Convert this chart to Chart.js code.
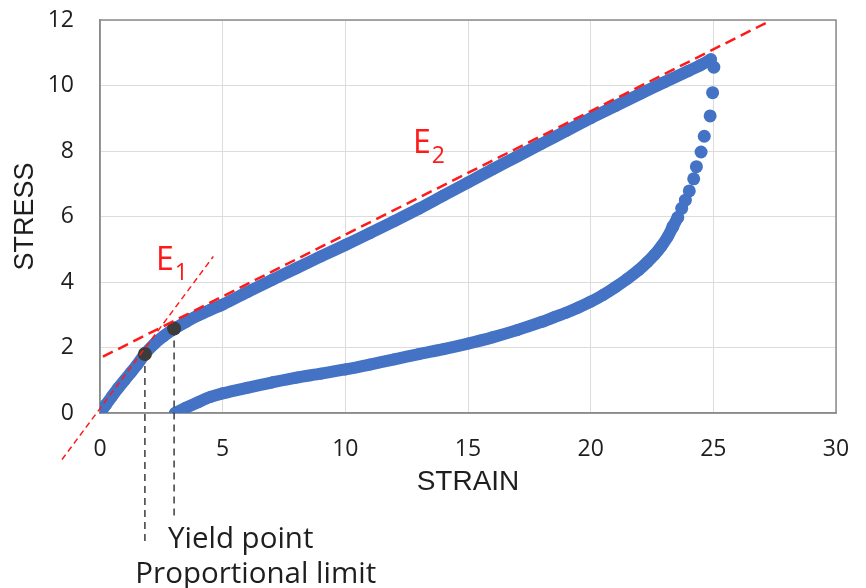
<!DOCTYPE html>
<html>
<head>
<meta charset="utf-8">
<script src="https://cdn.jsdelivr.net/npm/chart.js@4.4.1/dist/chart.umd.min.js"></script>
<style>
  html, body { margin: 0; padding: 0; background: #fff; }
  #wrap { width: 866px; height: 588px; }
</style>
</head>
<body>
<div id="wrap"><canvas id="chart" width="866" height="588"></canvas></div>
<script>
/* stress-strain loop, values */

const X_TICKS = [0, 5, 10, 15, 20, 25, 30];
const Y_TICKS = [0, 2, 4, 6, 8, 10, 12];

// loading branch
const loadStrain = [0, 0.25, 0.5, 0.75, 1.0, 1.25, 1.5, 1.83, 2.2, 2.6, 3.0, 3.5, 4.0, 4.5, 5, 6, 7, 8, 9, 10,
  11, 12, 13, 14, 15, 16, 17, 18, 19, 20, 21, 22, 23, 24, 24.5, 24.9];
const loadStress = [0, 0.26, 0.52, 0.77, 1.0, 1.23, 1.46, 1.8, 2.1, 2.35, 2.56, 2.78, 2.98, 3.15, 3.31, 3.69, 4.06, 4.42, 4.78, 5.13,
  5.49, 5.86, 6.24, 6.64, 7.04, 7.44, 7.83, 8.22, 8.61, 9.0, 9.37, 9.74, 10.1, 10.45, 10.63, 10.8];

// unloading branch, steep part (separate dots)
const dropStrain = [25.02, 24.97, 24.87, 24.63, 24.5, 24.31, 24.2, 24.02, 23.86, 23.71, 23.55, 23.35];
const dropStress = [10.56, 9.78, 9.07, 8.45, 7.97, 7.52, 7.15, 6.78, 6.5, 6.25, 5.97, 5.69];

// unloading branch, dense part
const unloadStrain = [23.55, 23.35, 23.14, 22.87, 22.6, 22.3, 21.95, 21.5, 21.0, 20.5, 20.0, 19.5, 19.0, 18.5, 18.0,
  17, 16, 15, 14, 13, 12, 11, 10, 9, 8, 7, 6, 5, 4.5, 4.0, 3.5, 3.06];
const unloadStress = [5.97, 5.69, 5.38, 5.08, 4.83, 4.6, 4.36, 4.1, 3.84, 3.6, 3.4, 3.22, 3.06, 2.92, 2.78,
  2.53, 2.31, 2.12, 1.95, 1.8, 1.64, 1.48, 1.33, 1.2, 1.08, 0.93, 0.77, 0.6, 0.49, 0.33, 0.16, 0];

// marked points: proportional limit, yield point
const markStrain = [1.83, 3.02];
const markStress = [1.8, 2.58];
const markLineBottom = [-3.97, -3.2];

// modulus lines
const e1Strain = [-1.55, 4.62];
const e1Stress = [-1.42, 4.78];
const e2Strain = [0.12, 27.25];
const e2Stress = [1.72, 11.95];

const BLUE = '#4472C4';
const RED = '#ff1a1a';
const DARK = '#3c3c3c';
const FONT = '"Open Sans", sans-serif';
const TITLE_FONT = '"Liberation Sans", Arial, sans-serif';

const pts = (xs, ys) => xs.map((x, i) => ({ x, y: ys[i] }));

// text placed in data coordinates (x = left edge, y = baseline)
const notes = [
  { text: 'Yield point',        x: 2.77, y: -4.12, size: 29.5 },
  { text: 'Proportional limit', x: 1.44, y: -5.19, size: 29.5 },
];
const moduli = [
  { main: 'E', sub: '1', x: 2.28, y: 4.37 },
  { main: 'E', sub: '2', x: 12.76, y: 7.94 },
];

const decor = {
  id: 'decor',
  beforeDatasetsDraw(chart) {
    const { ctx, chartArea: a } = chart;
    ctx.save();
    ctx.strokeStyle = '#8c8c8c';
    ctx.lineWidth = 1.5;
    ctx.strokeRect(a.left, a.top, a.right - a.left, a.bottom - a.top);
    ctx.restore();
  },
  afterDatasetsDraw(chart) {
    const { ctx, scales: { x, y } } = chart;
    ctx.save();
    ctx.textBaseline = 'alphabetic';
    ctx.textAlign = 'left';
    ctx.fillStyle = '#1e1e1e';
    notes.forEach(n => {
      ctx.font = `${n.size}px ${FONT}`;
      ctx.fillText(n.text, x.getPixelForValue(n.x), y.getPixelForValue(n.y));
    });
    ctx.fillStyle = RED;
    moduli.forEach(m => {
      const px = x.getPixelForValue(m.x), py = y.getPixelForValue(m.y);
      ctx.font = `32px ${FONT}`;
      ctx.fillText(m.main, px, py);
      const w = ctx.measureText(m.main).width;
      ctx.font = `23px ${FONT}`;
      ctx.fillText(m.sub, px + w + 1, py + 10);
    });
    ctx.restore();
  },
};

new Chart(document.getElementById('chart'), {
  type: 'scatter',
  data: {
    datasets: [
      {
        label: 'E2', data: pts(e2Strain, e2Stress), showLine: true, clip: false,
        borderColor: RED, borderWidth: 2.5, borderDash: [11, 6], pointRadius: 0, order: 0,
      },
      {
        label: 'E1', data: pts(e1Strain, e1Stress), showLine: true, clip: false,
        borderColor: RED, borderWidth: 1.5, borderDash: [6, 4], pointRadius: 0, order: 0,
      },
      {
        label: 'marks', data: pts(markStrain, markStress),
        backgroundColor: DARK, borderWidth: 0, pointRadius: 7, order: 1,
      },
      {
        label: 'prop line', data: pts([markStrain[0], markStrain[0]], [markStress[0], markLineBottom[0]]),
        showLine: true, clip: false, borderColor: DARK, borderWidth: 1.5, borderDash: [7, 5], pointRadius: 0, order: 2,
      },
      {
        label: 'yield line', data: pts([markStrain[1], markStrain[1]], [markStress[1], markLineBottom[1]]),
        showLine: true, clip: false, borderColor: DARK, borderWidth: 1.5, borderDash: [7, 5], pointRadius: 0, order: 2,
      },
      {
        label: 'loading', data: pts(loadStrain, loadStress), showLine: true, tension: 0.3,
        borderColor: BLUE, borderWidth: 12, borderCapStyle: 'round', borderJoinStyle: 'round',
        backgroundColor: BLUE, pointRadius: 6, pointBorderWidth: 0, order: 3,
      },
      {
        label: 'drop', data: pts(dropStrain, dropStress),
        backgroundColor: BLUE, pointRadius: 6.5, pointBorderWidth: 0, order: 3,
      },
      {
        label: 'unloading', data: pts(unloadStrain, unloadStress), showLine: true, tension: 0.3,
        borderColor: BLUE, borderWidth: 12, borderCapStyle: 'round', borderJoinStyle: 'round',
        backgroundColor: BLUE, pointRadius: 6, pointBorderWidth: 0, order: 3,
      },
    ],
  },
  options: {
    responsive: false,
    devicePixelRatio: 1,
    animation: false,
    layout: { padding: { top: 20, right: 30, left: 0, bottom: 0 } },
    plugins: { legend: { display: false }, tooltip: { enabled: false } },
    scales: {
      x: {
        type: 'linear', min: 0, max: 30,
        afterFit: s => { s.height = 175; },
        afterBuildTicks: s => { s.ticks = X_TICKS.map(v => ({ value: v })); },
        grid: { color: '#dcdcdc', lineWidth: 1, tickLength: 23, tickColor: 'rgba(0,0,0,0)' },
        border: { color: '#8c8c8c', width: 1.5 },
        ticks: { padding: 0, color: '#1e1e1e', font: { family: FONT, size: 23 } },
        title: { display: true, text: 'STRAIN', color: '#1e1e1e', font: { family: TITLE_FONT, size: 28 }, padding: { top: 0, bottom: 89 } },
      },
      y: {
        type: 'linear', min: 0, max: 12,
        afterFit: s => { s.width = 100; },
        afterBuildTicks: s => { s.ticks = Y_TICKS.map(v => ({ value: v })); },
        grid: { color: '#dcdcdc', lineWidth: 1, tickLength: 26, tickColor: 'rgba(0,0,0,0)' },
        border: { color: '#8c8c8c', width: 1.5 },
        ticks: { padding: 0, color: '#1e1e1e', font: { family: FONT, size: 23 } },
        title: { display: true, text: 'STRESS', color: '#1e1e1e', font: { family: TITLE_FONT, size: 27 }, padding: { top: 9, bottom: 0 } },
      },
    },
  },
  plugins: [decor],
});
</script>
</body>
</html>
